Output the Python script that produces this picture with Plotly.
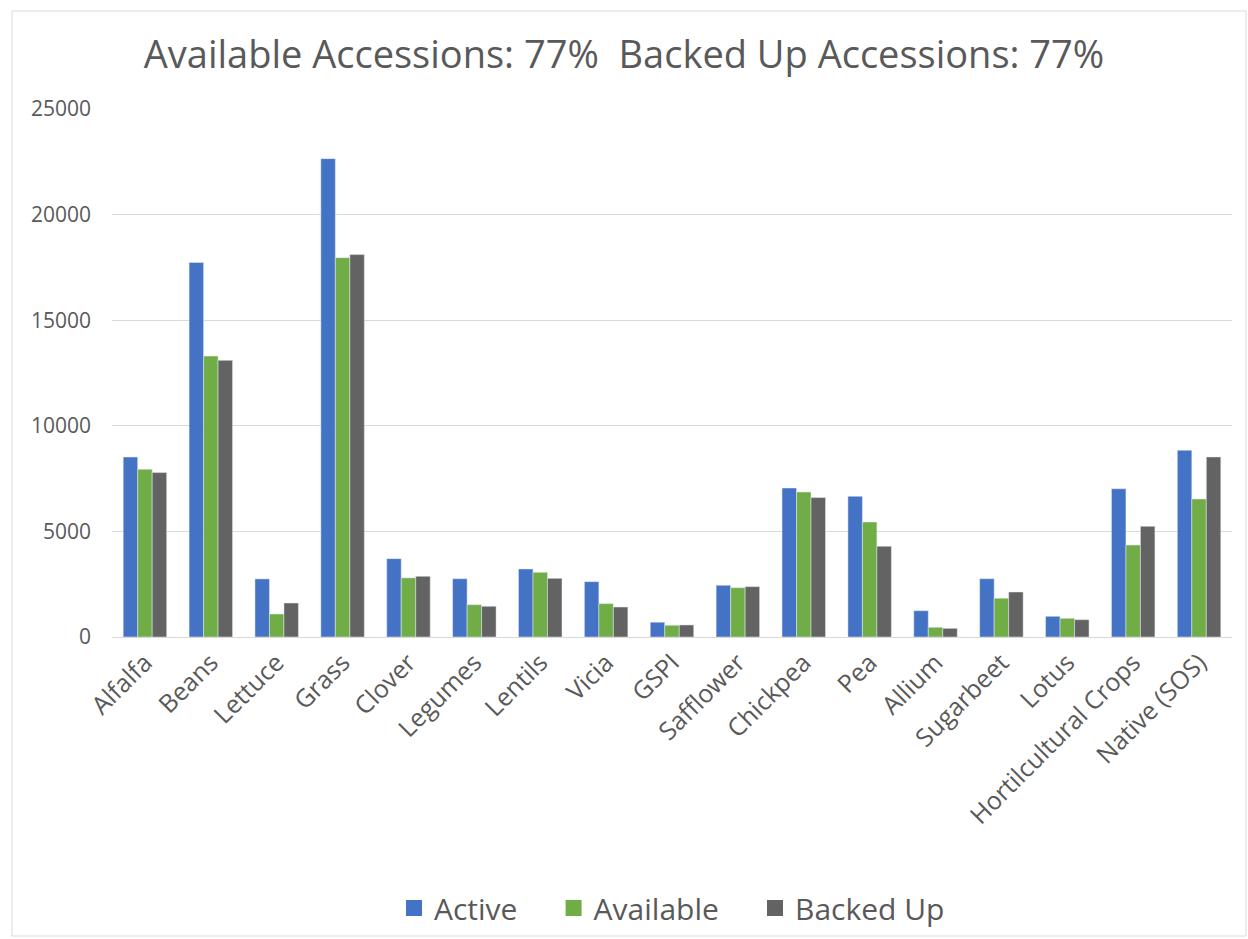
import plotly.graph_objects as go

categories = ["Alfalfa", "Beans", "Lettuce", "Grass", "Clover", "Legumes", "Lentils", "Vicia",
              "GSPI", "Safflower", "Chickpea", "Pea", "Allium", "Sugarbeet", "Lotus",
              "Hortilcultural Crops", "Native (SOS)"]
active = [8520, 17730, 2750, 22650, 3710, 2760, 3220, 2620, 700, 2450, 7055, 6660, 1245, 2760, 980, 7020, 8840]
available = [7940, 13300, 1090, 17960, 2800, 1530, 3060, 1580, 555, 2335, 6865, 5445, 460, 1835, 885, 4355, 6535]
backed_up = [7785, 13100, 1610, 18105, 2875, 1455, 2780, 1420, 570, 2385, 6600, 4295, 410, 2130, 820, 5240, 8525]
y_ticks = [0, 5000, 10000, 15000, 20000, 25000]
y_tick_labels = ["0", "5000", "10000", "15000", "20000", "25000"]

series = [("Active", active, "#4472C4"),
          ("Available", available, "#70AD47"),
          ("Backed Up", backed_up, "#636363")]

FONT = "Open Sans"
TXT = "#595959"
PAD = "\u00a0" * 4

fig = go.Figure()
for name, vals, col in series:
    fig.add_bar(name=name, x=categories, y=vals, marker_color=col, showlegend=False)
for i, (name, vals, col) in enumerate(series):
    fig.add_scatter(name=name + (PAD if i < 2 else ""), x=[None], y=[None], mode="markers",
                    marker=dict(symbol="square", size=20, color=col))

fig.update_layout(
    width=1248, height=939,
    margin=dict(l=112, r=16, t=109, b=302),
    paper_bgcolor="white", plot_bgcolor="white",
    barmode="group", bargap=0.34, bargroupgap=0,
    font=dict(family=FONT, color=TXT),
    title=dict(text="Available Accessions: 77%  Backed Up Accessions: 77%",
               x=0.5, xanchor="center", y=0.942, yanchor="middle",
               font=dict(size=38, color=TXT, family=FONT)),
    xaxis=dict(tickangle=-45, tickfont=dict(size=25, color=TXT), showline=True,
               linecolor="#D9D9D9", linewidth=1, ticks="", automargin=False),
    yaxis=dict(range=[0, 25000], tickvals=y_ticks, ticktext=y_tick_labels,
               tickfont=dict(size=21, color=TXT), automargin=False,
               gridcolor="#D9D9D9", gridwidth=1, zeroline=False, ticks="",
               ticklabelstandoff=20),
    legend=dict(orientation="h", x=0.5, xanchor="center",
                yref="container", y=(939 - 908) / 939, yanchor="middle",
                bgcolor="rgba(0,0,0,0)",
                font=dict(size=30, color=TXT), itemwidth=30, traceorder="normal"),
    shapes=[dict(type="rect", xref="paper", yref="paper",
                 x0=(12 - 112) / 1120, x1=(1246 - 112) / 1120,
                 y0=(637 - 936) / 528, y1=(637 - 11) / 528,
                 line=dict(color="#D9D9D9", width=1), fillcolor="rgba(0,0,0,0)", layer="below")],
)

fig.write_html("out.html")
